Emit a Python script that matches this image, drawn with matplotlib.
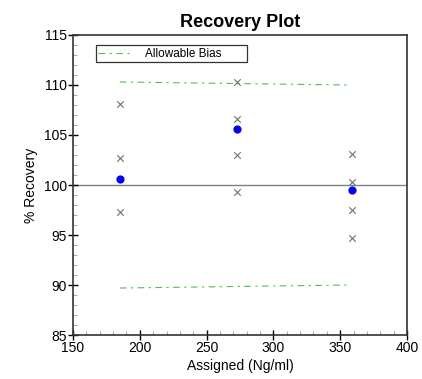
import matplotlib
matplotlib.use("Agg")
from matplotlib import pyplot as plt
from matplotlib.ticker import MultipleLocator

# 各浓度下的回收率数据
assigned = [185.5, 272.5, 359]
replicates = [
    [108.1, 102.7, 97.3],
    [110.3, 106.6, 103.0, 99.3],
    [103.1, 100.3, 97.5, 94.7],
]
means = [100.6, 105.6, 99.5]

# 允许偏差线
bias_x = [185, 355]
bias_upper = [110.3, 110.0]
bias_lower = [89.7, 90.0]


def main():
    plt.rcParams['font.family'] = ['Liberation Sans', 'DejaVu Sans']
    fig = plt.figure(figsize=(4.22, 3.79), dpi=100)
    ax = fig.add_axes([0.173, 0.116, 0.7915, 0.7917])

    ax.axhline(100, color='#808080', linewidth=1, zorder=1)

    ls = (0, (6, 4, 2, 4))
    ax.plot(bias_x, bias_upper, color='#55bb55', linewidth=0.8, linestyle=ls,
            label='Allowable Bias       ')
    ax.plot(bias_x, bias_lower, color='#55bb55', linewidth=0.8, linestyle=ls)

    for x, ys in zip(assigned, replicates):
        ax.scatter([x] * len(ys), ys, marker='x', s=22, color='#707070',
                   linewidths=0.8, zorder=3)
    ax.scatter(assigned, means, marker='o', s=24, color='#0000ee', zorder=4)

    ax.set_xlim(150, 400)
    ax.set_ylim(85, 115)
    ax.xaxis.set_major_locator(MultipleLocator(50))
    ax.xaxis.set_minor_locator(MultipleLocator(10))
    ax.yaxis.set_major_locator(MultipleLocator(5))
    ax.yaxis.set_minor_locator(MultipleLocator(1))
    ax.tick_params(which='major', direction='inout', length=7, width=1,
                   labelsize=10, pad=1)
    ax.tick_params(which='minor', direction='in', length=3, width=0.6,
                   color='#999999')
    for s in ax.spines.values():
        s.set_linewidth(1.2)
        s.set_color('#333333')

    ax.set_xlabel("Assigned (Ng/ml)", fontsize=10, labelpad=3)
    ax.set_ylabel("% Recovery", fontsize=10, labelpad=4)
    ax.set_title("Recovery Plot", fontsize=13, fontweight='bold', pad=6)

    leg = ax.legend(loc='upper left', fontsize=8.5, frameon=True,
                    fancybox=False, edgecolor='#333333', handlelength=2.8,
                    handletextpad=1.2, borderpad=0.2,
                    bbox_to_anchor=(0.05, 0.985), framealpha=1)
    leg.get_frame().set_linewidth(0.9)

    fig.savefig("out.png", dpi=100)


if __name__ == "__main__":
    main()
